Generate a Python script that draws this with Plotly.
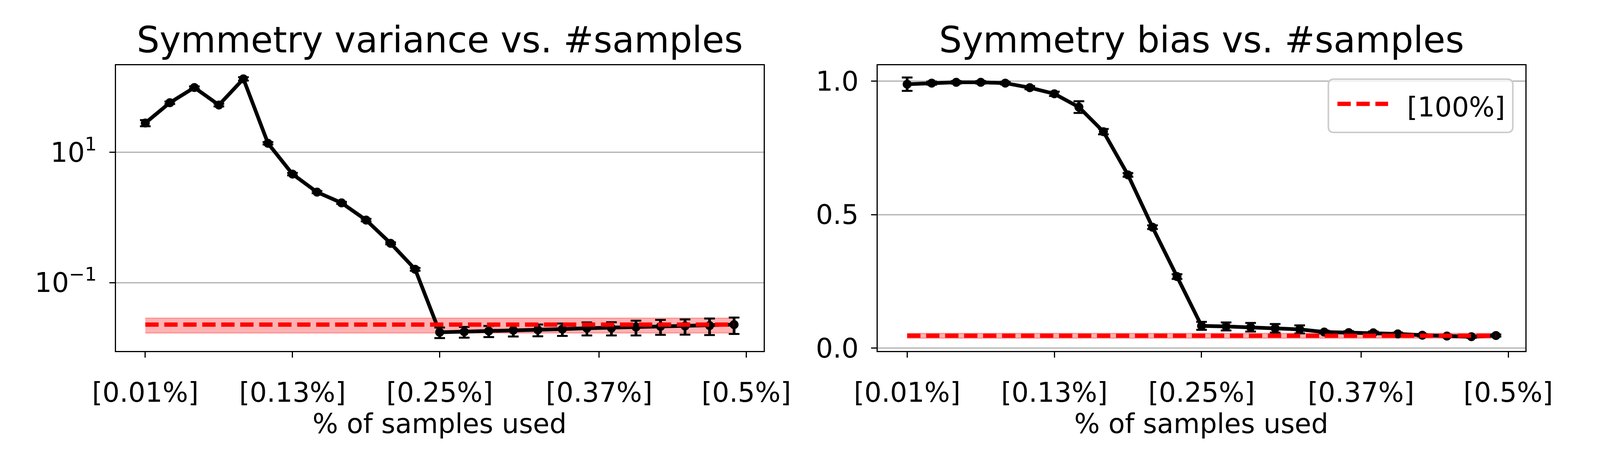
import numpy as np
import plotly.graph_objects as go

# -------------------- data --------------------
n_steps = 25
step_idx = list(range(n_steps))

tick_pos = [0, 6, 12, 18.5, 24.5]
tick_text = ["[0.01%]", "[0.13%]", "[0.25%]", "[0.37%]", "[0.5%]"]

var_mean = [28.0, 57.3, 98.0, 52.9, 133.0, 13.7, 4.61, 2.44, 1.67, 0.91, 0.40, 0.160,
            0.0173, 0.0176, 0.0181, 0.0186, 0.0189, 0.0194, 0.0200, 0.0201, 0.0208,
            0.0213, 0.0216, 0.0219, 0.0227]
var_err = [3.0, 2.5, 4.0, 2.5, 8.0, 0.6, 0.2, 0.1, 0.06, 0.04, 0.015, 0.008,
           0.0032, 0.0033, 0.0035, 0.0037, 0.0039, 0.0042, 0.0045, 0.0046, 0.0053,
           0.0055, 0.0057, 0.0062, 0.0064]
var_ref, var_ref_std = 0.0227, 0.0058

bias_mean = [0.989, 0.993, 0.996, 0.996, 0.993, 0.976, 0.953, 0.903, 0.811, 0.649,
             0.453, 0.268, 0.083, 0.081, 0.078, 0.074, 0.070, 0.060, 0.058, 0.057,
             0.053, 0.048, 0.045, 0.0425, 0.047]
bias_err = [0.025, 0.006, 0.005, 0.005, 0.005, 0.006, 0.008, 0.022, 0.010, 0.007,
            0.007, 0.009, 0.015, 0.015, 0.016, 0.016, 0.015, 0.005, 0.005, 0.005,
            0.005, 0.004, 0.004, 0.004, 0.004]
bias_ref, bias_ref_std = 0.046, 0.009

ref_label = "[100%]"

# -------------------- frame --------------------
# the page shows 4096 css px across (1200 down) and the body keeps its 8px margin,
# so the figure is 4080x1184 and the reference layout (4800x1200 grid) is
# squeezed sideways into it
VIEW_W, VIEW_H = 4096, 1200
BODY = 8
FIG_W, FIG_H = VIEW_W - 2 * BODY, VIEW_H - 2 * BODY
SX = VIEW_W / 4800          # horizontal squeeze vs the reference grid


def fx(ref_x):
    return (ref_x * SX - BODY) / FIG_W


def fy(ref_y):
    return 1 - (ref_y - BODY) / FIG_H


def vx(v):
    # viewport px -> paper
    return (v - BODY) / FIG_W


FONT = "DejaVu Sans"
TICK_SIZE = 69
TITLE_SIZE = 92
RED = "#ff0000"
BAND = "rgba(255,0,0,0.3)"
GRID = "#b0b0b0"
DASH = f"{40 * SX:.1f}px,{17 * SX:.1f}px"

fig = go.Figure()


def add_panel(xa, ya, mean, err, ref, ref_std):
    ends = [step_idx[0], step_idx[-1]]
    # reference band (+/- std)
    fig.add_trace(go.Scatter(x=ends, y=[ref - ref_std] * 2, mode="lines",
                             line=dict(color=BAND, width=3), xaxis=xa, yaxis=ya,
                             showlegend=False, hoverinfo="skip"))
    fig.add_trace(go.Scatter(x=ends, y=[ref + ref_std] * 2, mode="lines",
                             line=dict(color=BAND, width=3), fill="tonexty",
                             fillcolor=BAND, xaxis=xa, yaxis=ya,
                             showlegend=False, hoverinfo="skip"))
    # error bar stems (thicker) + caps
    fig.add_trace(go.Scatter(x=step_idx, y=mean, mode="markers",
                             marker=dict(size=1, color="rgba(0,0,0,0)"),
                             error_y=dict(type="data", array=err, color="black",
                                          thickness=7, width=0),
                             xaxis=xa, yaxis=ya, showlegend=False, hoverinfo="skip"))
    fig.add_trace(go.Scatter(x=step_idx, y=mean, mode="lines+markers",
                             line=dict(color="black", width=9.5),
                             marker=dict(size=23, color="black"),
                             error_y=dict(type="data", array=err, color="black",
                                          thickness=5, width=16 * SX),
                             xaxis=xa, yaxis=ya, showlegend=False))
    # reference line
    fig.add_trace(go.Scatter(x=ends, y=[ref] * 2, mode="lines", name=ref_label,
                             line=dict(color=RED, width=11, dash=DASH),
                             xaxis=xa, yaxis=ya, showlegend=False))


add_panel("x", "y", var_mean, var_err, var_ref, var_ref_std)
add_panel("x2", "y2", bias_mean, bias_err, bias_ref, bias_ref_std)

axis_common = dict(showline=True, linecolor="black", linewidth=3, mirror=True,
                   ticks="outside", ticklen=14, tickwidth=3, tickcolor="black",
                   zeroline=False,
                   tickfont=dict(family=FONT, size=TICK_SIZE, color="black"))

x_dom1 = [fx(285), fx(2293)]
x_dom2 = [fx(2647), fx(4655)]
y_dom = [fy(923), fy(171)]

fig.update_layout(
    width=FIG_W, height=FIG_H,
    margin=dict(l=0, r=0, t=0, b=0),
    paper_bgcolor="white", plot_bgcolor="white",
    font=dict(family=FONT, color="black"),
    showlegend=False,
    xaxis=dict(domain=x_dom1, range=[-1.2, 25.2], tickvals=tick_pos, ticktext=tick_text,
               showgrid=False, anchor="y", ticklabelstandoff=30, **axis_common),
    yaxis=dict(domain=y_dom, type="log", range=[-2.05, 2.335],
               tickvals=[0.1, 10], ticktext=["10<sup>\u22121</sup>", "10<sup>1</sup>"],
               showgrid=True, gridcolor=GRID, gridwidth=3, anchor="x",
               ticklabelstandoff=18, **axis_common),
    xaxis2=dict(domain=x_dom2, range=[-1.2, 25.2], tickvals=tick_pos, ticktext=tick_text,
                showgrid=False, anchor="y2", ticklabelstandoff=30, **axis_common),
    yaxis2=dict(domain=y_dom, range=[-0.0114, 1.0605], tickvals=[0.0, 0.5, 1.0],
                ticktext=["0.0", "0.5", "1.0"], showgrid=True, gridcolor=GRID,
                gridwidth=3, anchor="x2", ticklabelstandoff=18, **axis_common),
)

# titles and axis labels
titles = ["Symmetry variance vs. #samples", "Symmetry bias vs. #samples"]
for dom, title in zip([x_dom1, x_dom2], titles):
    cx = (dom[0] + dom[1]) / 2
    fig.add_annotation(text=title, x=cx, y=fy(105), xref="paper", yref="paper",
                       xanchor="center", yanchor="middle", showarrow=False,
                       font=dict(family=FONT, size=TITLE_SIZE, color="black"))
    fig.add_annotation(text="% of samples used", x=cx, y=fy(1114), xref="paper",
                       yref="paper", xanchor="center", yanchor="middle", showarrow=False,
                       font=dict(family=FONT, size=TICK_SIZE, color="black"))

# matplotlib-style legend box (right panel), placed in viewport px
lx0, lx1, ly0, ly1 = vx(3451), vx(3939), fy(208), fy(348)
rx, ry = 15 / FIG_W, 15 / FIG_H
path = (f"M {lx0 + rx},{ly0} L {lx1 - rx},{ly0} Q {lx1},{ly0} {lx1},{ly0 - ry} "
        f"L {lx1},{ly1 + ry} Q {lx1},{ly1} {lx1 - rx},{ly1} "
        f"L {lx0 + rx},{ly1} Q {lx0},{ly1} {lx0},{ly1 + ry} "
        f"L {lx0},{ly0 - ry} Q {lx0},{ly0} {lx0 + rx},{ly0} Z")
fig.add_shape(type="path", path=path, xref="paper", yref="paper",
              fillcolor="rgba(255,255,255,0.8)", line=dict(color="#cccccc", width=4))
fig.add_shape(type="line", xref="paper", yref="paper",
              x0=vx(3475), x1=vx(3609), y0=fy(273), y1=fy(273),
              line=dict(color=RED, width=11, dash=DASH))
fig.add_annotation(text=ref_label, x=vx(3657), y=fy(281), xref="paper", yref="paper",
                   xanchor="left", yanchor="middle", showarrow=False,
                   font=dict(family=FONT, size=TICK_SIZE, color="black"))

fig.write_html("out.html")
